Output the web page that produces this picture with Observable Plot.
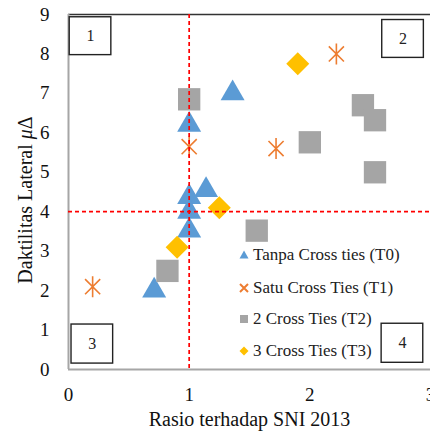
<!DOCTYPE html>
<html>
<head>
<meta charset="utf-8">
<script src="https://cdn.jsdelivr.net/npm/d3@7"></script>
<script src="https://cdn.jsdelivr.net/npm/@observablehq/plot@0.6"></script>
<style>
  html, body { margin: 0; padding: 0; background: #fff; }
  #wrap { position: relative; width: 430px; height: 435px; font-family: "Liberation Serif", "Times New Roman", serif; }
  .leg { position: absolute; font-size: 17px; color: #222; white-space: nowrap; font-family: "Liberation Serif", "Times New Roman", serif; }
</style>
</head>
<body>
<div id="wrap"></div>
<script>
// ---- data ----
const seriesNames = ["Tanpa Cross ties (T0)", "Satu Cross Ties (T1)", "2 Cross Ties (T2)", "3 Cross Ties (T3)"];
const t0x = [1.0, 1.36, 1.0, 1.0, 1.0, 1.14, 0.71];
const t0y = [6.2, 7.0, 4.37, 4.0, 3.52, 4.55, 2.0];
const t1x = [0.2, 1.0, 1.72, 2.22];
const t1y = [2.1, 5.65, 5.6, 8.0];
const t2x = [1.0, 0.82, 1.56, 2.0, 2.44, 2.54, 2.54];
const t2y = [6.85, 2.5, 3.52, 5.76, 6.7, 6.32, 5.0];
const t3x = [1.9, 1.25, 0.9];
const t3y = [7.75, 4.1, 3.1];
const xTicks = [0, 1, 2, 3];
const yTicks = [0, 1, 2, 3, 4, 5, 6, 7, 8, 9];
const refX = [1];
const refY = [4];
const quadrantLabels = ["1", "2", "3", "4"];
const xTitle = "Rasio terhadap SNI 2013";
const yTitle = "Daktilitas Lateral μΔ";

// ---- layout / style ----
const FONT = '"Liberation Serif", "Times New Roman", serif';
const colors = ["#5B9BD5", "#ED7D31", "#A5A5A5", "#FFC000"];
const quadrantBoxes = [
  {x1: 0.01, x2: 0.355, y1: 7.97, y2: 8.93},
  {x1: 2.6, x2: 2.945, y1: 7.9, y2: 8.86},
  {x1: 0.025, x2: 0.37, y1: 0.15, y2: 1.14},
  {x1: 2.595, x2: 2.94, y1: 0.17, y2: 1.16}
];

const pts = (xs, ys) => xs.map((x, i) => ({x, y: ys[i]}));
const d0 = pts(t0x, t0y), d1 = pts(t1x, t1y), d2 = pts(t2x, t2y), d3s = pts(t3x, t3y);
const quads = quadrantLabels.map((label, i) => ({label, ...quadrantBoxes[i]}));

const diamond = {
  draw(ctx, size) {
    const h = Math.sqrt(size / Math.PI);
    ctx.moveTo(0, -h); ctx.lineTo(h, 0); ctx.lineTo(0, h); ctx.lineTo(-h, 0); ctx.closePath();
  }
};
const star = {
  draw(ctx, size) {
    const r = Math.sqrt(size / Math.PI);
    const a = r * 0.72;
    ctx.moveTo(-a, -a); ctx.lineTo(a, a);
    ctx.moveTo(-a, a); ctx.lineTo(a, -a);
    ctx.moveTo(0, -r); ctx.lineTo(0, r);
  }
};

const chart = Plot.plot({
  width: 430,
  height: 435,
  marginLeft: 68,
  marginRight: 0,
  marginTop: 14,
  marginBottom: 66,
  x: {domain: [0, 3]},
  y: {domain: [0, 9]},
  style: {fontFamily: FONT, fontSize: "19px", color: "#111", background: "white", overflow: "visible"},
  marks: [
    Plot.ruleY([9], {stroke: "#333", strokeWidth: 1.6}),
    Plot.ruleX([0], {stroke: "#A6A6A6", strokeWidth: 2}),
    Plot.ruleY([0], {stroke: "#A6A6A6", strokeWidth: 2}),
    Plot.axisX({ticks: xTicks, tickFormat: "d", tickSize: 0, tickPadding: 18, label: null, fontSize: 19}),
    Plot.axisY({ticks: yTicks, tickFormat: "d", tickSize: 0, tickPadding: 19, label: null, fontSize: 19}),
    Plot.text([xTitle], {frameAnchor: "bottom", lineAnchor: "middle", textAnchor: "middle", dy: 50, fontSize: 20, fill: "#111"}),
    Plot.text([yTitle], {frameAnchor: "left", textAnchor: "middle", lineAnchor: "middle", rotate: -90, dx: -43, dy: 8, fontSize: 20, fill: "#111", className: "ytitle"}),
    Plot.dot(d0, {x: "x", y: "y", symbol: "triangle", r: 8.9, fill: colors[0], stroke: "none"}),
    Plot.dot(d1, {x: "x", y: "y", symbol: star, r: 10.5, fill: "none", stroke: colors[1], strokeWidth: 1.6}),
    Plot.dot(d2, {x: "x", y: "y", symbol: "square", r: 12.6, fill: colors[2], stroke: "none"}),
    Plot.dot(d3s, {x: "x", y: "y", symbol: diamond, r: 11.5, fill: colors[3], stroke: "none"}),
    Plot.ruleX(refX, {stroke: "#FF0000", strokeDasharray: "4,3", strokeWidth: 1.7}),
    Plot.ruleY(refY, {stroke: "#FF0000", strokeDasharray: "4,3", strokeWidth: 1.7}),
    Plot.rect(quads, {x1: "x1", x2: "x2", y1: "y1", y2: "y2", fill: "white", stroke: "#222", strokeWidth: 1.4}),
    Plot.text(quads, {x: d => (d.x1 + d.x2) / 2, y: d => (d.y1 + d.y2) / 2, text: "label", fontSize: 16, fill: "#222"})
  ]
});

// italic mu in y title
const yt = chart.querySelector(".ytitle text");
if (yt) {
  yt.textContent = "";
  const ns = "http://www.w3.org/2000/svg";
  const parts = [["Daktilitas Lateral ", "normal"], ["μ", "italic"], ["Δ", "normal"]];
  for (const [s, st] of parts) {
    const ts = document.createElementNS(ns, "tspan");
    ts.textContent = s;
    ts.setAttribute("font-style", st);
    yt.appendChild(ts);
  }
}

const wrap = document.getElementById("wrap");
wrap.appendChild(chart);

// legend overlay
const legendSyms = [
  '<polygon points="5,0.5 9.5,8.5 0.5,8.5" fill="' + colors[0] + '"/>',
  '<path d="M1,1L9,9M1,9L9,1" stroke="' + colors[1] + '" stroke-width="2"/>',
  '<rect x="1" y="1" width="8" height="8" fill="' + colors[2] + '"/>',
  '<polygon points="5,0.5 9.5,5 5,9.5 0.5,5" fill="' + colors[3] + '"/>'
];
const rowCenters = [255, 288, 319, 351];
seriesNames.forEach((name, i) => {
  const m = document.createElement("div");
  m.className = "leg";
  m.style.left = "239px";
  m.style.top = (rowCenters[i] - 5) + "px";
  m.innerHTML = '<svg width="10" height="10" style="display:block">' + legendSyms[i] + '</svg>';
  wrap.appendChild(m);
  const t = document.createElement("div");
  t.className = "leg";
  t.style.left = "253px";
  t.style.top = (rowCenters[i] - 11) + "px";
  t.style.lineHeight = "22px";
  t.textContent = name;
  wrap.appendChild(t);
});
</script>
</body>
</html>
